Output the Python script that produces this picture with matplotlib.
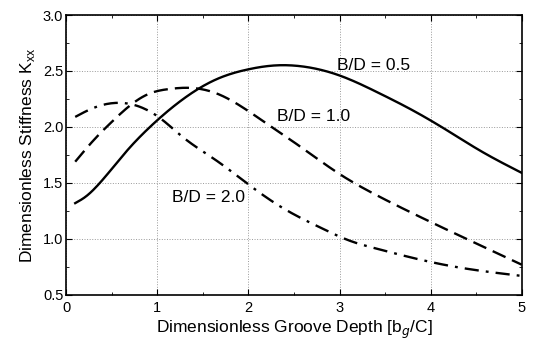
import numpy as np
import matplotlib.pyplot as plt
from matplotlib.ticker import MultipleLocator

plt.rcParams['font.family'] = ['Liberation Sans', 'DejaVu Sans']

# Kxx vs groove depth for three bearing aspect ratios
depth_05 = [0.1, 0.21, 0.37, 0.67, 0.92, 1.22, 1.47, 1.69, 2.0, 2.3, 2.6, 3.0, 3.44, 3.8, 4.18, 4.54, 5.0]
kxx_05 = [1.32, 1.375, 1.5, 1.79, 2.0, 2.21, 2.35, 2.44, 2.515, 2.55, 2.54, 2.46, 2.30, 2.15, 1.97, 1.79, 1.59]

depth_10 = [0.1, 0.3, 0.52, 0.73, 0.92, 1.14, 1.3, 1.47, 1.65, 2.13, 2.49, 2.75, 3.0, 3.48, 4.03, 4.5, 5.0]
kxx_10 = [1.69, 1.88, 2.06, 2.21, 2.30, 2.34, 2.35, 2.34, 2.30, 2.07, 1.87, 1.72, 1.58, 1.36, 1.14, 0.96, 0.77]

depth_20 = [0.1, 0.3, 0.48, 0.67, 0.81, 1.03, 1.28, 1.65, 1.98, 2.35, 2.82, 3.11, 3.4, 3.66, 4.21, 5.0]
kxx_20 = [2.09, 2.17, 2.21, 2.21, 2.18, 2.08, 1.91, 1.70, 1.50, 1.29, 1.09, 0.985, 0.915, 0.86, 0.76, 0.67]

labels = ['B/D = 0.5', 'B/D = 1.0', 'B/D = 2.0']
label_pos = [(2.97, 2.55), (2.31, 2.09), (1.16, 1.37)]

x_ticks = [0, 1, 2, 3, 4, 5]
y_ticks = [0.5, 1.0, 1.5, 2.0, 2.5, 3.0]


def spline(x, y, n=300):
    # natural cubic spline through the read-off points
    x = np.asarray(x, float)
    y = np.asarray(y, float)
    m = len(x)
    h = np.diff(x)
    A = np.zeros((m, m))
    r = np.zeros(m)
    A[0, 0] = A[-1, -1] = 1.0
    for i in range(1, m - 1):
        A[i, i - 1] = h[i - 1]
        A[i, i] = 2 * (h[i - 1] + h[i])
        A[i, i + 1] = h[i]
        r[i] = 6 * ((y[i + 1] - y[i]) / h[i] - (y[i] - y[i - 1]) / h[i - 1])
    M = np.linalg.solve(A, r)
    xs = np.linspace(x[0], x[-1], n)
    idx = np.clip(np.searchsorted(x, xs) - 1, 0, m - 2)
    x0, x1 = x[idx], x[idx + 1]
    hh = x1 - x0
    t0, t1 = x1 - xs, xs - x0
    ys = (M[idx] * t0 ** 3 + M[idx + 1] * t1 ** 3) / (6 * hh) \
        + (y[idx] / hh - M[idx] * hh / 6) * t0 + (y[idx + 1] / hh - M[idx + 1] * hh / 6) * t1
    return xs, ys


fig = plt.figure(figsize=(5.33, 3.41), dpi=100)
ax = fig.add_axes([0.124, 0.135, 0.855, 0.821])

x, y = spline(depth_05, kxx_05)
ax.plot(x, y, color='black', lw=1.7, ls='-')
x, y = spline(depth_10, kxx_10)
ax.plot(x, y, color='black', lw=1.7, ls=(0, (6, 3)))
x, y = spline(depth_20, kxx_20)
ax.plot(x, y, color='black', lw=1.7, ls=(0, (6, 3, 1.2, 3)))

for text, (tx, ty) in zip(labels, label_pos):
    ax.text(tx, ty, text, fontsize=12.5, ha='left', va='center')

ax.set_xticks(x_ticks)
ax.set_yticks(y_ticks)
ax.set_yticklabels([f'{v:.1f}' for v in y_ticks])
ax.xaxis.set_minor_locator(MultipleLocator(0.5))
ax.yaxis.set_minor_locator(MultipleLocator(0.25))
ax.set_xlim(0, 5)
ax.set_ylim(0.5, 3.0)
ax.tick_params(which='both', direction='in', top=True, right=True, labelsize=10.5)
ax.tick_params(axis='x', pad=4)
ax.tick_params(axis='y', pad=2)
ax.tick_params(which='major', length=4)
ax.tick_params(which='minor', length=2)
ax.grid(True, which='major', color='#999999', ls=':', lw=0.7)
for sp in ax.spines.values():
    sp.set_linewidth(1.2)

ax.set_xlabel('Dimensionless Groove Depth [b$_g$/C]', fontsize=12.5, labelpad=3)
ax.set_ylabel('Dimensionless Stiffness K$_{\\mathregular{xx}}$', fontsize=12.5, labelpad=4)

fig.savefig('out.png', dpi=100)
